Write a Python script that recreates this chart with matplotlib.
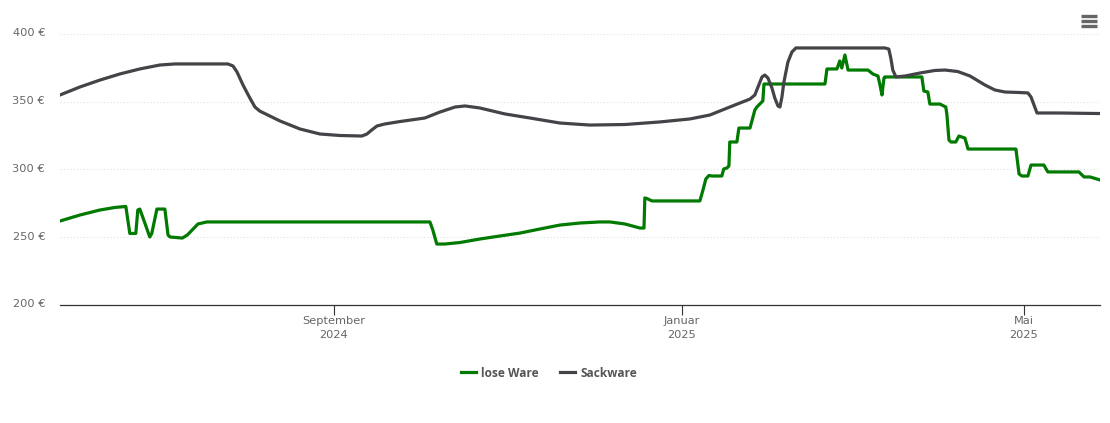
import matplotlib
matplotlib.use("Agg")
import matplotlib.pyplot as plt
from matplotlib.lines import Line2D
from matplotlib.transforms import ScaledTranslation
import pandas as pd

# days relative to 2024-09-01
origin = pd.Timestamp("2024-09-01")
lose_days = [-96.1,-89.1,-82.1,-76.8,-73,-72.3,-71.6,-69.5,-68.8,-68.1,-66.7,-64.6,-63.9,-62.1,-59.3,-58.2,-57.5,-53.2,-51.4,-47.7,-45.6,-44.6,
             33.7,34.7,36.1,38.9,44.2,51.2,58.2,65.3,72.3,79.3,86.3,93.3,96.8,102.1,107.4,108.8,109.1,109.8,111.6,128.4,129.5,130.5,131.6,132.6,136.1,136.8,137.9,138.6,138.9,141.4,142.1,146,147.7,148.4,150.5,150.9,
             172.3,173,176.5,177.5,178.2,179.3,180.4,187.4,189.1,190.9,191.6,192.3,193,193.3,206.3,207,208.4,209.1,212.6,213.3,214.7,215.1,215.8,216.5,218.2,219.3,221.4,222.5,
             239.3,240.4,241.4,243.5,244.6,249.1,250.5,261.4,263.2,265.3,268.8]
lose_eur = [262,266.4,270.1,272,272.7,262.7,252.8,252.8,270.1,270.8,262.7,250.2,252.8,270.8,270.8,251.7,250.2,249.4,251.7,259.8,260.8,261.3,
            261.3,255.4,245,245,246.1,248.7,250.9,253.1,256.1,259,260.5,261.3,261.3,259.8,256.8,256.8,279,278.6,276.8,276.8,284.9,293,295.6,295.2,295.2,300.4,301.1,302.6,320.3,320.3,330.6,330.6,343.9,346.1,350.6,363.1,
            363.1,374.2,374.2,380.1,374.9,384.5,373.4,373.4,370.5,369,362.4,355,367.5,368.3,368.3,357.9,357.2,348.3,348.3,347.6,346.1,340.2,321.8,320.3,320.3,324.7,323.2,315.1,
            315.1,296.7,295.2,295.2,303.3,303.3,298.2,298.2,294.5,294.5,292.3]
sack_days = [-96.1,-89.1,-82.1,-75.1,-68.1,-61.1,-55.8,-37.2,-35.4,-34,-31.9,-29.5,-27.7,-26,-18.9,-11.9,-4.9,2.1,9.8,11.6,13.3,15.1,17.9,23.2,31.9,37.2,42.5,46,51.2,60,68.8,79.3,89.8,102.1,114.4,124.9,131.9,138.9,142.5,146,147.7,148.8,150.2,151.2,152.3,153.7,154.7,155.8,156.5,157.2,157.9,159.3,160.7,162.1,163.5,
             193.3,194.7,195.4,196.1,197.2,200.4,205.6,210.9,214.4,218.9,223.2,228.4,231.9,235.4,240.7,243.5,244.6,246.7,254.7,268.8]
sack_eur = [355,360.9,366,370.5,374.2,377.1,377.9,377.9,376.4,372,362.4,352.8,346.1,343.1,335.8,329.9,326.2,325.1,324.7,326.2,329.2,332.1,333.6,335.4,338,342.4,346.1,346.9,345.4,341,338,334.3,332.8,333.2,335.1,337.3,340.2,346.1,349.1,352,355,360.9,368.3,369.7,367.5,360.1,352.8,346.9,346.1,353.5,364.6,379.3,386.7,389.7,389.7,
            389.7,388.9,382.3,373.4,368.3,369,371.2,373.1,373.4,372.3,369,362.4,358.7,357.2,356.8,356.5,353.5,341.7,341.7,341.3]
y_ticks = [200, 250, 300, 350, 400]
x_tick_dates = ["2024-09-01", "2025-01-01", "2025-05-01"]
x_tick_labels = ["September\n2024", "Januar\n2025", "Mai\n2025"]
series_names = ["lose Ware", "Sackware"]

GREEN = "#007a00"
DARK = "#434348"
W, H = 1110, 423

plt.rcParams["font.family"] = ["DejaVu Sans"]
fig = plt.figure(figsize=(W / 100, H / 100), dpi=100, facecolor="white")
ax = fig.add_axes([60 / W, 1 - 305 / H, 1040 / W, 271 / H])

to_dates = lambda d: origin + pd.to_timedelta(d, unit="D")
ax.plot(to_dates(lose_days), lose_eur, color=GREEN, lw=2.3, solid_joinstyle="round", label=series_names[0], zorder=3)
ax.plot(to_dates(sack_days), sack_eur, color=DARK, lw=2.3, solid_joinstyle="round", label=series_names[1], zorder=4)

ax.set_xlim(to_dates(-96.1), to_dates(268.8))
ax.set_ylim(200, 400)
ax.set_yticks(y_ticks)
ax.set_yticklabels([f"{v} €" for v in y_ticks], color="#666666", fontsize=8.2)
ax.set_xticks(pd.to_datetime(x_tick_dates))
ax.set_xticklabels(x_tick_labels, color="#666666", fontsize=8.2, linespacing=1.5)
ax.tick_params(axis="y", length=0, pad=10.7)
ax.tick_params(axis="x", length=7.2, width=0.8, color="#333333", pad=1.0)
shift = ScaledTranslation(0, 1.1 / 72, fig.dpi_scale_trans)
for lab in ax.get_yticklabels():
    lab.set_transform(lab.get_transform() + shift)
ax.grid(axis="y", color="#e0e0e0", lw=0.8, ls=(0, (1, 2)))
ax.set_axisbelow(True)
for s in ("top", "right", "left"):
    ax.spines[s].set_visible(False)
ax.spines["bottom"].set_color("#333333")
ax.spines["bottom"].set_linewidth(0.9)

leg = fig.legend(*ax.get_legend_handles_labels(), loc="center", bbox_to_anchor=(549 / W, 1 - 373 / H), ncol=2,
                 frameon=False, prop={"family": "Open Sans", "size": 8.6, "weight": "bold"}, labelcolor="#555555",
                 handlelength=1.25, handletextpad=0.42, columnspacing=1.85)

for y in (16, 21, 26):
    fig.add_artist(Line2D([1081 / W, 1097 / W], [1 - y / H, 1 - y / H], color="#666666", lw=2.4, solid_capstyle="butt"))

fig.savefig("out.png", dpi=100)
